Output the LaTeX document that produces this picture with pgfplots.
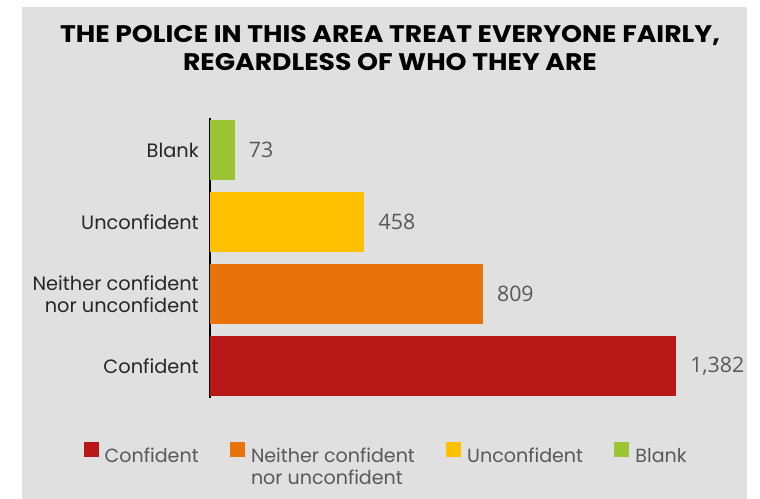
\documentclass[border=0pt]{standalone}
\usepackage{pgfplots}
\pgfplotsset{compat=1.18}
\usepackage{fontspec}
\setmainfont{Poppins}
\newfontfamily\titlefont{Poppins}[FakeStretch=1.11]
\newfontfamily\valfont{Open Sans}
\definecolor{bg}{HTML}{E0E0E0}
\definecolor{cred}{HTML}{B91818}
\definecolor{corange}{HTML}{E8730A}
\definecolor{cyellow}{HTML}{FFC000}
\definecolor{cgreen}{HTML}{9BC532}
\definecolor{labgray}{HTML}{262626}
\definecolor{valgray}{HTML}{595959}
\begin{document}
\begin{tikzpicture}[x=0.75pt,y=0.75pt]
\path[use as bounding box] (0,0) rectangle (760,499);
\fill[bg] (22,0) rectangle (747,492);
\node[font=\titlefont\bfseries\fontsize{18}{20.5}\selectfont, align=center, anchor=center, text=black] at (390,451)
  {THE POLICE IN THIS AREA TREAT EVERYONE FAIRLY,\\REGARDLESS OF WHO THEY ARE};
\coordinate (A) at (210,101);
\begin{axis}[
  at={(A)}, anchor=south west,
  scale only axis, width=349.5pt, height=210pt,
  xmin=0, xmax=1382, ymin=-0.44, ymax=3.45,
  xbar, bar width=45pt, bar shift=0pt,
  hide x axis,
  axis y line*=left,
  y axis line style={line width=1.5pt, black, -},
  ytick={0,1,2,3},
  yticklabels={Confident,{Neither confident\\nor unconfident},Unconfident,Blank},
  yticklabel style={align=right, font=\fontsize{14.5}{16.5}\selectfont, text=labgray, inner sep=0pt, xshift=-8.25pt},
  major tick length=0pt,
  clip=false,
  point meta=x,
  nodes near coords,
  nodes near coords style={font=\valfont\fontsize{16}{18}\selectfont, text=valgray, anchor=west, inner sep=0pt, xshift=10.5pt},
  /pgf/number format/1000 sep={,},
  /pgf/number format/assume math mode=true,
  legend image code/.code={\fill[#1,draw=none] (0pt,-0.75pt) rectangle (11.25pt,10.5pt);},
  legend style={at={(-0.2715,-0.157)}, anchor=north west, draw=none, fill=none,
     legend columns=4, font=\fontsize{14.3}{16.5}\selectfont, text=valgray,
     inner sep=0pt, nodes={inner xsep=4.5pt, inner ysep=0pt},
     /tikz/every even column/.append style={column sep=19pt}},
  legend cell align=left,
]
\addplot[fill=cred, draw=none] coordinates {(1382,0)};
\addplot[fill=corange, draw=none] coordinates {(809,1)};
\addplot[fill=cyellow, draw=none] coordinates {(458,2)};
\addplot[fill=cgreen, draw=none] coordinates {(73,3)};
\legend{Confident,{\begin{tabular}[t]{@{}l@{}}Neither confident\\nor unconfident\end{tabular}},Unconfident,Blank}
\end{axis}
\end{tikzpicture}
\end{document}
